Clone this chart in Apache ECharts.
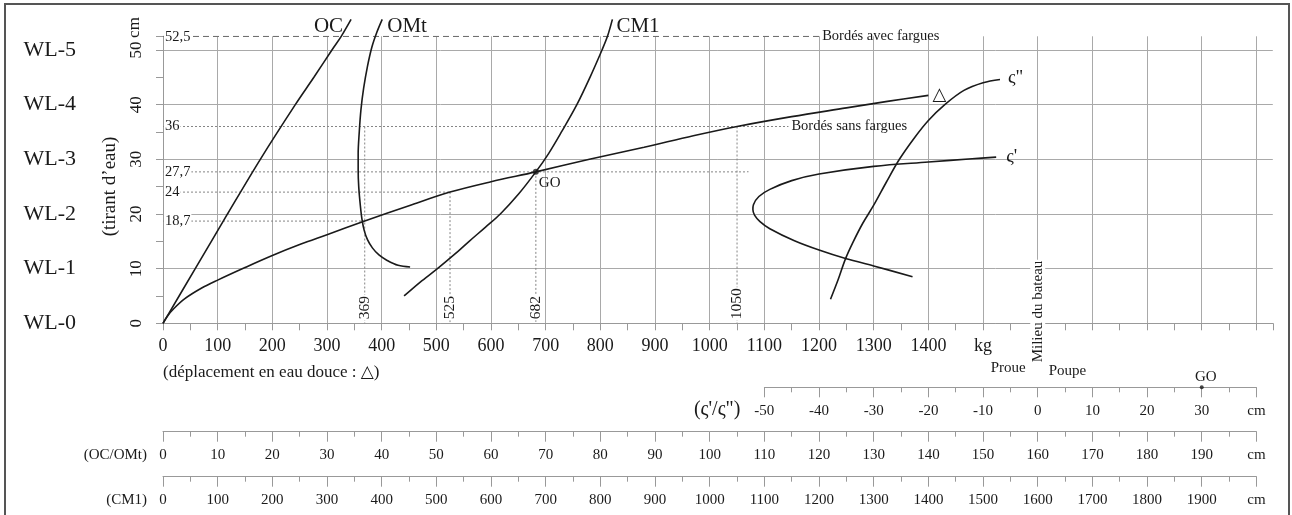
<!DOCTYPE html>
<html>
<head>
<meta charset="utf-8">
<script src="https://cdn.jsdelivr.net/npm/echarts@6/dist/echarts.min.js"></script>
<style>
  html, body { margin: 0; padding: 0; background: #fff; }
  #chart { width: 1292px; height: 515px; }
</style>
</head>
<body>
<div id="chart"></div>
<script>
var FONT = '"Liberation Serif", "DejaVu Serif", serif';
var INK = '#1a1a1a';
var GRIDC = '#a9a9a9';
var AXISC = '#999';

// curves: [displacement kg, draught cm]
var deltaCurve = [[0,0],[8,1.3],[20,2.7],[40,4.5],[70,6.4],[100,7.9],[150,10.2],[200,12.4],[250,14.4],[300,16.2],[369,18.7],[450,21.5],[525,24],[600,25.9],[682,27.7],[780,30],[880,32.2],[970,34.3],[1050,36],[1150,37.8],[1250,39.4],[1325,40.6],[1400,41.7]];
var ocCurve = [[0,0],[59,10],[118,20],[178,30],[242,40],[276,45],[309,50],[326,52.5],[344,55.6]];
var omtCurve = [[452,10.3],[430,10.6],[410,11.5],[395,12.5],[383,13.8],[374,15.3],[368,17],[364,19],[361,21.5],[358,25],[357,28],[357,31],[359,35],[362,39],[367,43],[374,47],[382,50.5],[391,53.2],[401,55.6]];
var cm1Curve = [[441,5],[470,7.5],[502,10],[532,12.5],[560,15],[590,17.6],[617,20],[650,23.6],[682,27.7],[705,31],[730,35.2],[757,40],[781,45],[803,50],[813,52.5],[822,55.6]];
var zeta1Curve = [[1524,30.4],[1480,30.1],[1400,29.5],[1300,28.7],[1200,27.3],[1150,26.1],[1110,24.5],[1090,23.2],[1080,21.7],[1079,20.8],[1082,19.8],[1092,18.6],[1110,17.3],[1155,15.1],[1200,13.4],[1250,11.8],[1300,10.5],[1371,8.5]];
var zeta2Curve = [[1221,4.4],[1235,8],[1248,11.7],[1262,14.8],[1280,18.3],[1300,21.6],[1323,25.8],[1347,30],[1375,34],[1400,37.1],[1430,40],[1465,42.6],[1500,44],[1531,44.6]];

// reading lines
var refLevels = [52.5, 36, 27.7, 24, 18.7];
var refLabels = ['52,5', '36', '27,7', '24', '18,7'];
var refEnds = [1202, 1144, 1071, 525, 369];
var dropX = [369, 525, 682, 1050];
var dropTop = [36, 24, 27.7, 36];
var goPoint = [682, 27.7];
var goZeta = 30;
var milieuKg = 1600;

var K = 0.5467;   // px per kg
var X0 = 163;

var chart = echarts.init(document.getElementById('chart'));

function scaleAxis(grid, min, max, step) {
  return {
    gridIndex: grid, type: 'value', min: min, max: max, interval: step,
    axisLine: { lineStyle: { color: AXISC } },
    axisTick: { length: 10, lineStyle: { color: AXISC } },
    minorTick: { show: true, splitNumber: 2, length: 5, lineStyle: { color: AXISC } },
    splitLine: { show: false },
    axisLabel: {
      margin: 16, fontSize: 15, color: INK, fontFamily: FONT,
      formatter: function (v) { return v === max ? 'cm' : String(v); }
    }
  };
}
function hiddenY(grid) {
  return { gridIndex: grid, type: 'value', min: 0, max: 1, show: false };
}
function curve(name, data) {
  return {
    name: name, type: 'line', xAxisIndex: 0, yAxisIndex: 0, data: data,
    smooth: 0.35, symbol: 'none', clip: false, silent: true, z: 4,
    lineStyle: { color: INK, width: 1.6 }
  };
}

var series = [];
refLevels.forEach(function (lvl, i) {
  series.push({
    type: 'line', xAxisIndex: 0, yAxisIndex: 0, symbol: 'none', silent: true, z: 3,
    data: [[0, lvl], [refEnds[i], lvl]],
    lineStyle: i === 0 ? { color: '#707070', width: 1.2, type: [6, 4] }
                       : { color: '#858585', width: 1, type: [2, 2] }
  });
});
dropX.forEach(function (x, i) {
  series.push({
    type: 'line', xAxisIndex: 0, yAxisIndex: 0, symbol: 'none', silent: true, z: 3,
    data: [[x, dropTop[i]], [x, 0]],
    lineStyle: { color: '#858585', width: 1, type: [2, 2] }
  });
});
series.push(curve('Δ', deltaCurve));
series.push(curve('OC', ocCurve));
series.push(curve('OMt', omtCurve));
series.push(curve('CM1', cm1Curve));
series.push(curve("ς'", zeta1Curve));
series.push(curve('ς"', zeta2Curve));
series.push({
  type: 'scatter', xAxisIndex: 0, yAxisIndex: 0, data: [goPoint],
  symbolSize: 6, itemStyle: { color: INK }, silent: true, z: 5
});
series.push({
  type: 'scatter', xAxisIndex: 1, yAxisIndex: 2, data: [[goZeta, 0]], clip: false,
  symbolSize: 4, itemStyle: { color: INK }, silent: true, z: 5
});

var option = {
  animation: false,
  backgroundColor: '#fff',
  textStyle: { fontFamily: FONT },
  grid: [
    { left: X0, top: 36.3, width: 2030 * K, height: 287, outerBoundsMode: 'none' },
    { left: X0 + 1100 * K, top: 386.3, width: 900 * K, height: 1, outerBoundsMode: 'none' },
    { left: X0, top: 430.7, width: 2000 * K, height: 1, outerBoundsMode: 'none' },
    { left: X0, top: 475.7, width: 2000 * K, height: 1, outerBoundsMode: 'none' }
  ],
  xAxis: [
    {
      gridIndex: 0, type: 'value', min: 0, max: 2030, interval: 100,
      axisLine: { lineStyle: { color: AXISC } },
      axisTick: { length: 7, lineStyle: { color: AXISC } },
      minorTick: { show: true, splitNumber: 2, length: 7, lineStyle: { color: AXISC } },
      splitLine: { show: true, showMaxLine: false, lineStyle: { color: GRIDC, width: 1 } },
      axisLabel: {
        margin: 14, fontSize: 18, color: INK, fontFamily: FONT,
        formatter: function (v) { return v <= 1400 ? String(v) : (v === 1500 ? 'kg' : ''); }
      }
    },
    scaleAxis(1, -50, 40, 10),
    scaleAxis(2, 0, 200, 10),
    scaleAxis(3, 0, 2000, 100)
  ],
  yAxis: [
    {
      gridIndex: 0, type: 'value', min: 0, max: 52.5, interval: 10,
      axisLine: { show: true, lineStyle: { color: AXISC } },
      axisTick: { show: true, length: 7, lineStyle: { color: AXISC } },
      minorTick: { show: true, splitNumber: 2, length: 7, lineStyle: { color: AXISC } },
      splitLine: { show: true, showMaxLine: false, lineStyle: { color: GRIDC, width: 1 } },
      axisLabel: {
        rotate: 90, margin: 18, fontSize: 17, color: INK, fontFamily: FONT,
        formatter: function (v) { return v % 10 === 0 ? String(v) : ''; }
      }
    },
    {
      gridIndex: 0, type: 'value', min: 0, max: 52.5, interval: 10, position: 'left',
      axisLine: { show: false }, axisTick: { show: false }, splitLine: { show: false },
      axisLabel: {
        margin: 87, fontSize: 22, color: INK, fontFamily: FONT,
        formatter: function (v) { return v % 10 === 0 ? 'WL-' + (v / 10) : ''; }
      }
    },
    hiddenY(1), hiddenY(2), hiddenY(3)
  ],
  series: series
};
chart.setOption(option);

function P(pt) { return chart.convertToPixel({ xAxisIndex: 0, yAxisIndex: 0 }, pt); }
function last(a) { return a[a.length - 1]; }
function txt(s, x, y, o) {
  o = o || {};
  var st = {
    legacy: false, text: s, fill: INK,
    font: (o.size || 15) + 'px ' + (o.family || FONT),
    align: o.align || 'left', verticalAlign: o.va || 'middle'
  };
  if (o.bg) { st.backgroundColor = '#fff'; st.padding = [0, 1]; }
  return { type: 'text', x: x, y: y, rotation: o.rot || 0, silent: true, z: 100, style: st };
}

var ROT = Math.PI / 2;
var g = [];
var p;
p = P(last(ocCurve));  g.push(txt('OC', p[0] - 8, p[1] + 7, { align: 'right', size: 21 }));
p = P(last(omtCurve)); g.push(txt('OMt', p[0] + 5, p[1] + 7, { size: 21 }));
p = P(last(cm1Curve)); g.push(txt('CM1', p[0] + 4, p[1] + 7, { size: 21 }));
p = P(last(deltaCurve)); g.push(txt('△', p[0] + 4, p[1], { size: 18, family: '"DejaVu Sans", sans-serif' }));
p = P(last(zeta2Curve)); g.push(txt('ς"', p[0] + 8, p[1] - 1, { size: 19 }));
p = P(zeta1Curve[0]);   g.push(txt("ς'", p[0] + 10, p[1], { size: 19 }));
p = P(goPoint);         g.push(txt('GO', p[0] + 3, p[1] + 11, { size: 15 }));

refLevels.forEach(function (lvl, i) {
  var q = P([0, lvl]);
  g.push(txt(refLabels[i], X0 + 1, q[1] + (i === 0 ? 1 : 0), { size: 14.5, bg: true }));
});
p = P([refEnds[0], refLevels[0]]); g.push(txt('Bordés avec fargues', p[0] + 2, p[1], { size: 14.5 }));
p = P([refEnds[1], refLevels[1]]); g.push(txt('Bordés sans fargues', p[0] + 3, p[1], { size: 14.5 }));
dropX.forEach(function (x) {
  var q = P([x, 0]);
  g.push(txt(String(x), q[0], q[1] - 3, { rot: ROT, size: 15.5, bg: true }));
});

var mid = P([milieuKg, 0]);
g.push(txt('Milieu du bateau', mid[0], mid[1] + 40, { rot: ROT, size: 15, bg: true }));
g.push(txt('Proue', mid[0] - 12, 368, { align: 'right', size: 15 }));
g.push(txt('Poupe', mid[0] + 11, 371, { size: 15 }));
var goPx = chart.convertToPixel({ xAxisIndex: 1, yAxisIndex: 2 }, [goZeta, 0]);
g.push(txt('GO', goPx[0] + 4, goPx[1] - 10, { align: 'center', size: 15 }));
g.push(txt('(déplacement en eau douce : △)', X0, 372.7, { size: 17, family: '"Liberation Serif", "DejaVu Sans", serif' }));
g.push(txt("(ς'/ς\")", X0 + 1100 * K - 24, 410, { align: 'right', size: 20 }));
g.push(txt('(OC/OMt)', X0 - 16, 455, { align: 'right', size: 15 }));
g.push(txt('(CM1)', X0 - 16, 500, { align: 'right', size: 15 }));
g.push(txt('(tirant d’eau)', 110, 186.5, { rot: ROT, align: 'center', size: 19 }));
g.push(txt('cm', 135, 27.5, { rot: ROT, align: 'center', size: 17 }));
g.push({
  type: 'rect', silent: true, z: 100,
  shape: { x: 5, y: 4, width: 1284, height: 520 },
  style: { fill: 'none', stroke: '#555', lineWidth: 2 }
});
chart.setOption({ graphic: g });

window.addEventListener('resize', function () { chart.resize(); });
</script>
</body>
</html>
